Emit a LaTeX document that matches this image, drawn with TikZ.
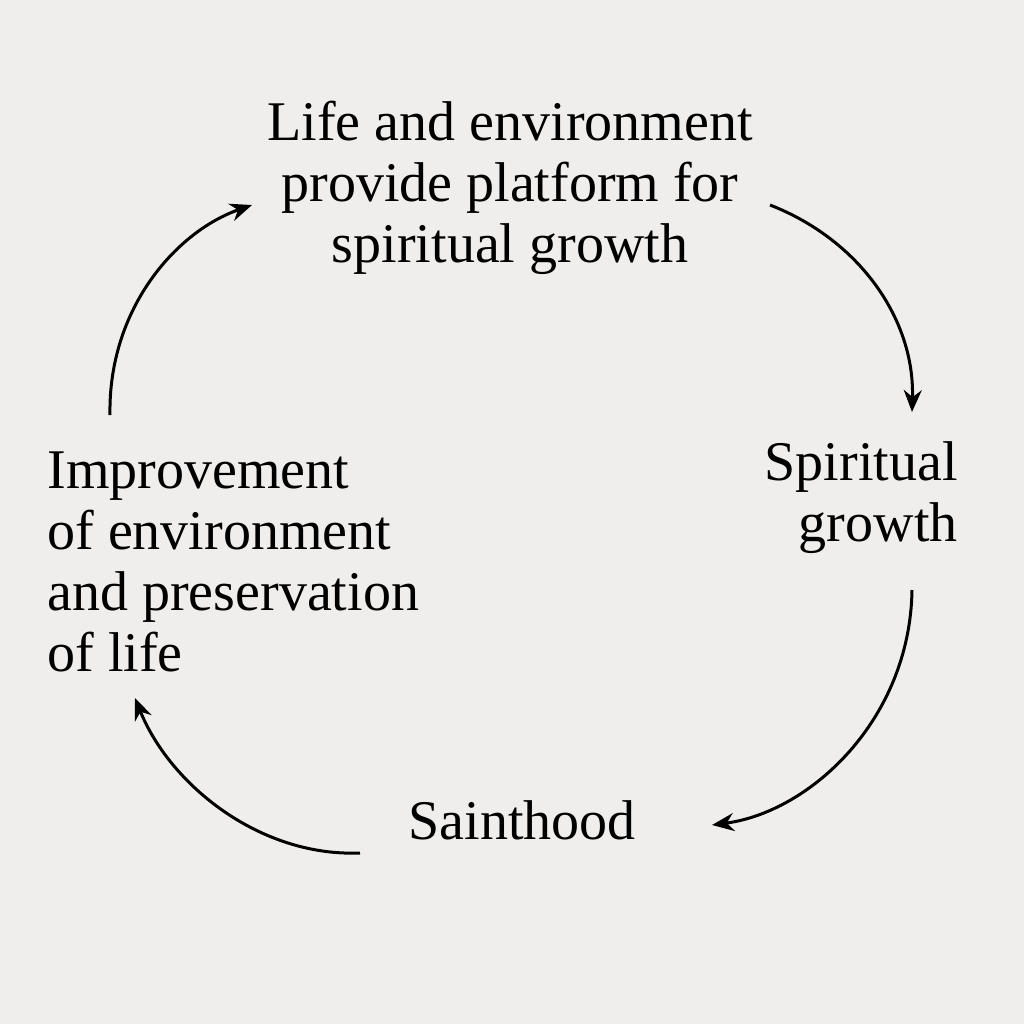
\documentclass[tikz,border=0pt]{standalone}
\usepackage{fontspec}
\setmainfont{Liberation Serif}
\usetikzlibrary{arrows.meta}
\definecolor{bg}{HTML}{EFEEEC}
\begin{document}
\begin{tikzpicture}[x=0.5pt,y=-0.5pt,
  lbl/.style={font=\fontsize{28}{30.5}\selectfont, inner sep=0pt},
  cyc/.style={line width=1.5pt, -{Stealth[length=11pt,width=9pt]}}]
\fill[bg] (0,0) rectangle (1024,1024);
\useasboundingbox (0,0) rectangle (1024,1024);
\node[lbl,align=center] (top) at (510,188) {Life and environment\\provide platform for\\spiritual growth};
\node[lbl,align=right,anchor=east] (sg) at (958,498) {Spiritual\\growth};
\node[lbl] (st) at (522,820) {Sainthood};
\node[lbl,align=left,anchor=west] (imp) at (47,562) {Improvement\\of environment\\and preservation\\of life};
\coordinate (a1) at (770,205); \coordinate (b1) at (912,412);
\coordinate (a2) at (912,590); \coordinate (b2) at (712,825);
\coordinate (a3) at (360,853); \coordinate (b3) at (135,698);
\coordinate (a4) at (110,415); \coordinate (b4) at (252,205);
\draw[cyc] (a1) .. controls (860,240) and (915,320) .. (b1);
\draw[cyc] (a2) .. controls (910,720) and (810,812) .. (b2);
\draw[cyc] (a3) .. controls (260,857) and (170,785) .. (b3);
\draw[cyc] (a4) .. controls (108,310) and (175,232) .. (b4);
\end{tikzpicture}
\end{document}
